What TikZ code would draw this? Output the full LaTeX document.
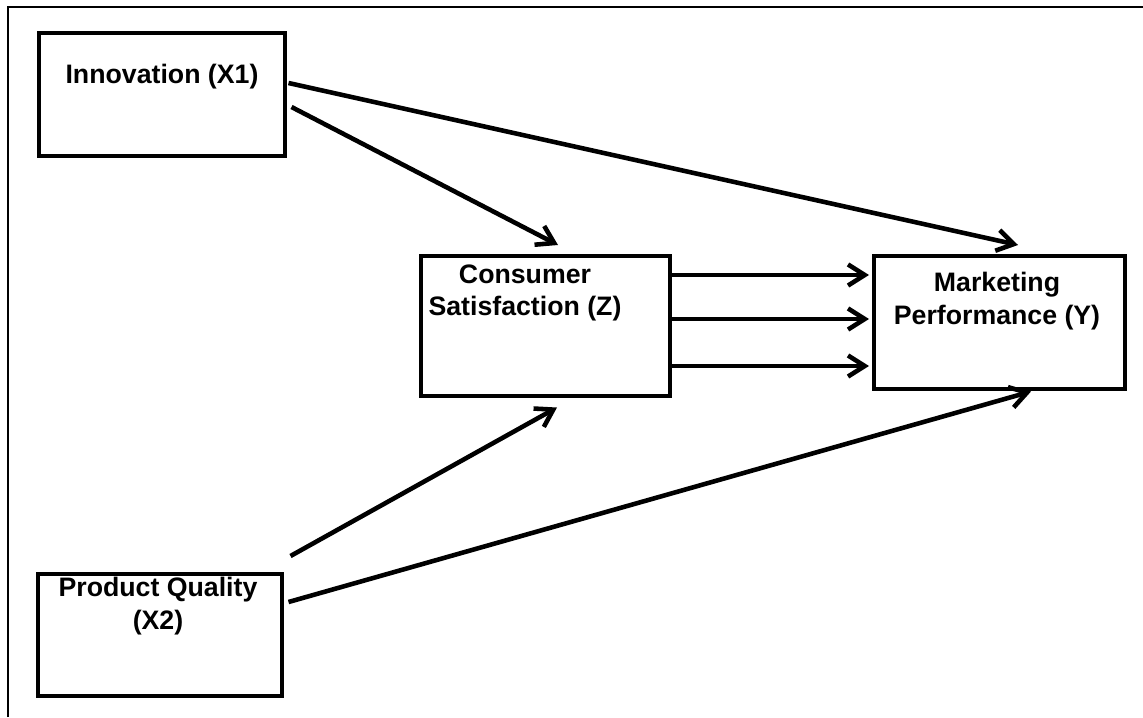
\documentclass[tikz,border=0pt]{standalone}
\usepackage{fontspec}
\setmainfont{Liberation Sans}
\usetikzlibrary{arrows.meta,calc}
\tikzset{
  box/.style={draw=black, line width=2pt, fill=white, inner sep=0pt, anchor=north west},
  lbl/.style={font=\bfseries\fontsize{15.2}{18.4}\selectfont, align=center, inner sep=0pt, anchor=north},
  arr/.style={line width=2.6pt, -{Straight Barb[length=9.5pt,width=12pt,line width=2.6pt]}},
  frame/.style={line width=1.3pt}
}
\begin{document}
\begin{tikzpicture}[x=0.02cm,y=-0.02cm]
\useasboundingbox (0,0) rectangle (1143,717);
\draw[frame] (8,717) -- (8,7) -- (1143,7);
% boxes
\node[box, minimum width=246*0.02cm, minimum height=123*0.02cm] (inn) at (37,31) {};
\node[box, minimum width=249*0.02cm, minimum height=140*0.02cm] (con) at (419,254) {};
\node[box, minimum width=251*0.02cm, minimum height=133*0.02cm] (mkt) at (872,254) {};
\node[box, minimum width=244*0.02cm, minimum height=122*0.02cm] (pq) at (36,572) {};
% labels
\node[lbl] (innt) at (162,64) {Innovation (X1)};
\node[lbl] (cont) at (525,264) {Consumer\\Satisfaction (Z)};
\node[lbl] (mktt) at (997,272) {Marketing\\Performance (Y)};
\node[lbl] (pqt) at (158,577) {Product Quality\\(X2)};
% arrows
\draw[arr] ($(inn.north east)+(2,52)$) -- ($(mkt.north west)+(146,-9)$);
\draw[arr] ($(inn.north east)+(5,76)$) -- ($(con.north west)+(139,-9)$);
\draw[arr] ($(con.north east)+(0,21)$) -- ($(mkt.north west)+(-3,21)$);
\draw[arr] ($(con.north east)+(0,65)$) -- ($(mkt.north west)+(-3,65)$);
\draw[arr] ($(con.north east)+(0,112)$) -- ($(mkt.north west)+(-3,112)$);
\draw[arr] ($(pq.north east)+(7,-16)$) -- ($(con.south west)+(138,10)$);
\draw[arr] ($(pq.north east)+(5,30)$) -- ($(mkt.south west)+(159,1)$);
\end{tikzpicture}
\end{document}
